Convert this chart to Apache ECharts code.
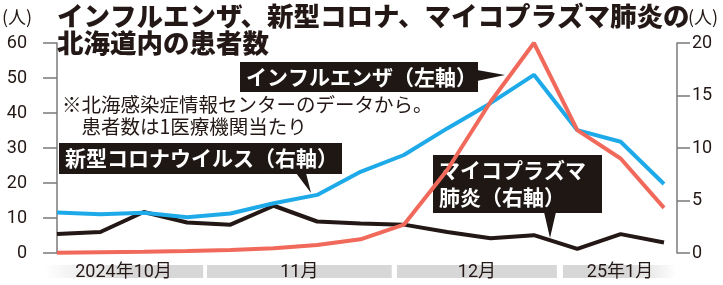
<!DOCTYPE html>
<html><head><meta charset="utf-8">
<script src="https://cdn.jsdelivr.net/npm/echarts@6/dist/echarts.min.js"></script>
<style>html,body{margin:0;padding:0;background:#fff}#c{width:723px;height:285px}</style>
</head><body><div id="c"></div>
<script>
// ---- data (weekly, 1医療機関当たり患者数) ----
const weeks = [0,1,2,3,4,5,6,7,8,9,10,11,12,13,14];
const influenza = [11.6,11.1,11.5,10.2,11.3,14.2,16.6,23.2,28.0,35.6,42.8,50.9,35.1,31.8,19.7]; // left axis
const covid = [1.8,2.0,3.9,2.9,2.7,4.5,3.0,2.8,2.7,2.0,1.4,1.7,0.4,1.8,1.0];                 // right axis
const mycoplasma = [0.03,0.08,0.12,0.2,0.29,0.45,0.76,1.3,2.7,7.9,14.4,20.0,11.7,9.0,4.3];     // right axis
const monthLabels = ['2024年10月','11月','12月','25年1月'];
const monthStart = [-0.3,3.46,7.84,11.67];
const monthEnd = [3.37,7.72,11.53,14.3];
const leftMax = 60, leftStep = 10;
const rightMax = 20, rightStep = 5;

const INK = '#231815';
const BLUE = '#1eaae8';
const RED = '#f0695a';
const CJK = '"Noto Sans CJK JP", sans-serif';
const NUM = 'Roboto, "Noto Sans CJK JP", sans-serif';

const pair = arr => weeks.map((w, i) => [w, arr[i]]);
const bands = monthLabels.map((l, i) => [monthStart[i], monthEnd[i], l, i]);

const chart = echarts.init(document.getElementById('c'), null, {renderer: 'canvas'});

function bandItem(params, api) {
  const s = api.coord([api.value(0), 1]);
  const e = api.coord([api.value(1), 0]);
  const idx = api.value(3);
  const g = '#d7d7d7';
  let fill = g;
  if (idx === 0) fill = new echarts.graphic.LinearGradient(0,0,1,0,[{offset:0,color:'rgba(215,215,215,0)'},{offset:0.55,color:g},{offset:1,color:g}]);
  if (idx === monthLabels.length - 1) fill = new echarts.graphic.LinearGradient(0,0,1,0,[{offset:0,color:g},{offset:0.55,color:g},{offset:1,color:'rgba(215,215,215,0)'}]);
  return {
    type: 'group',
    children: [
      {type: 'rect', shape: {x: s[0], y: s[1], width: e[0]-s[0], height: e[1]-s[1]}, style: {fill}},
      {type: 'text', style: {text: bands[params.dataIndex][2], x: (s[0]+e[0])/2, y: (s[1]+e[1])/2 + 1,
        align: 'center', verticalAlign: 'middle', fontSize: 18, fontFamily: NUM, fill: INK}}
    ]
  };
}

const boxColor = '#1e1714';
function box(x, y, w, h, text, tri, lh) {
  return {
    type: 'group', children: [
      {type: 'polygon', shape: {points: tri}, style: {fill: boxColor}},
      {type: 'rect', shape: {x, y, width: w, height: h}, style: {fill: boxColor}},
      {type: 'text', x: x + 6, y: y + h/2, style: {text, fill: '#fff', fontSize: 21, fontWeight: 'bold',
        fontFamily: CJK, verticalAlign: 'middle', lineHeight: lh || 27}}
    ]
  };
}

chart.setOption({
  animation: false,
  grid: [
    {left: 44, right: 46, top: 43, bottom: 32},
    {left: 44, right: 46, top: 265, height: 13}
  ],
  xAxis: [
    {type: 'value', gridIndex: 0, min: -0.3, max: 14.3, show: false},
    {type: 'value', gridIndex: 1, min: -0.3, max: 14.3, show: false}
  ],
  yAxis: [
    {type: 'value', gridIndex: 0, min: 0, max: leftMax, interval: leftStep, position: 'left',
     axisLine: {show: true, lineStyle: {color: '#7a7a7a', width: 1.5}},
     axisTick: {show: true, length: 14, lineStyle: {color: '#7a7a7a', width: 1.5}},
     axisLabel: {margin: 17, color: INK, fontSize: 18, fontFamily: NUM},
     splitLine: {show: false}},
    {type: 'value', gridIndex: 0, min: 0, max: rightMax, interval: rightStep, position: 'right',
     axisLine: {show: true, lineStyle: {color: '#7a7a7a', width: 1.5}},
     axisTick: {show: true, length: 13, lineStyle: {color: '#7a7a7a', width: 1.5}},
     axisLabel: {margin: 15, color: INK, fontSize: 18, fontFamily: NUM},
     splitLine: {show: false}},
    {type: 'value', gridIndex: 1, min: 0, max: 1, show: false}
  ],
  series: [
    {name: '新型コロナウイルス', type: 'line', xAxisIndex: 0, yAxisIndex: 1, data: pair(covid),
     showSymbol: false, lineStyle: {color: INK, width: 4}, z: 2},
    {name: 'インフルエンザ', type: 'line', xAxisIndex: 0, yAxisIndex: 0, data: pair(influenza),
     showSymbol: false, lineStyle: {color: BLUE, width: 4}, z: 3},
    {name: 'マイコプラズマ肺炎', type: 'line', xAxisIndex: 0, yAxisIndex: 1, data: pair(mycoplasma),
     showSymbol: false, clip: false, lineStyle: {color: RED, width: 4}, z: 4},
    {type: 'custom', xAxisIndex: 1, yAxisIndex: 2, data: bands, renderItem: bandItem, z: 1}
  ],
  graphic: [
    {type: 'text', left: 57, top: 2, z: 10, style: {text: 'インフルエンザ、新型コロナ、マイコプラズマ肺炎の\n北海道内の患者数',
      fontSize: 26.5, fontWeight: 900, fontFamily: CJK, fill: INK, lineHeight: 27}},
    {type: 'text', left: 2, top: 8, style: {text: '(人)', fontSize: 18, fontFamily: CJK, fill: INK}},
    {type: 'text', left: 688, top: 8, style: {text: '(人)', fontSize: 18, fontFamily: CJK, fill: INK}},
    {type: 'text', left: 62, top: 94, style: {text: '※北海感染症情報センターのデータから。\n　患者数は1医療機関当たり',
      fontSize: 19.5, fontFamily: CJK, fill: INK, lineHeight: 22}},
    box(240, 62, 238, 30, 'インフルエンザ（左軸）', [[477,70],[477,81],[505,75]]),
    box(59, 143, 283, 31, '新型コロナウイルス（右軸）', [[296,173],[306,173],[311,193]]),
    box(433, 155, 169, 58, 'マイコプラズマ\n肺炎（右軸）', [[544,212],[556,212],[550,238]])
  ]
});
</script>
</body></html>
